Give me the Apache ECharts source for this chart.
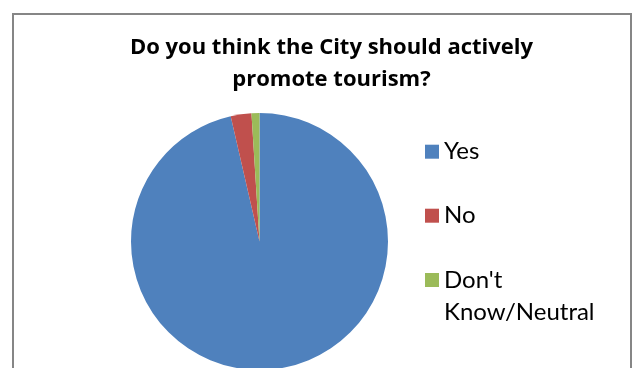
<!DOCTYPE html>
<html>
<head>
<meta charset="utf-8">
<script src="https://cdn.jsdelivr.net/npm/echarts@6/dist/echarts.min.js"></script>
<style>
html,body{margin:0;padding:0;background:#fff;}
#chart{width:636px;height:368px;}
</style>
</head>
<body>
<div id="chart"></div>
<script>
const titleLines = ["Do you think the City should actively", "promote tourism?"];
const categories = ["Yes", "No", "Don't Know/Neutral"];
const values = [96.4, 2.6, 1.0];
const colors = ["#4F81BD", "#C0504D", "#9BBB59"];

const chart = echarts.init(document.getElementById('chart'), null, {renderer: 'canvas'});
const legendFont = {fontFamily: 'Lato', fontSize: 24, color: '#000', lineHeight: 32};
function mkLegend(name, top, fmt) {
  return {
    data: [name], orient: 'vertical', left: 425, top: top, padding: 0,
    itemWidth: 14, itemHeight: 14, icon: 'rect', selectedMode: false,
    textStyle: legendFont, formatter: fmt || '{name}'
  };
}
chart.setOption({
  backgroundColor: '#fff',
  animation: false,
  legend: [
    mkLegend(categories[0], 135.7),
    mkLegend(categories[1], 199.7),
    mkLegend(categories[2], 232, function () { return "\nDon't\nKnow/Neutral"; })
  ],
  graphic: [{
    type: 'rect', shape: {x: 13, y: 14, width: 618, height: 420},
    style: {fill: 'none', stroke: '#868686', lineWidth: 2}, silent: true, z: 100
  }, {
    type: 'text', x: 331.5, y: 31.5, silent: true,
    style: {
      text: titleLines.join('\n'), align: 'center', verticalAlign: 'top',
      fontFamily: 'Open Sans', fontWeight: 'bold', fontSize: 22, lineHeight: 32, fill: '#000'
    }
  }],
  series: [{
    type: 'pie',
    center: [259.5, 241.5],
    radius: 128.5,
    startAngle: 90,
    clockwise: true,
    label: {show: false},
    labelLine: {show: false},
    itemStyle: {borderWidth: 0},
    emphasis: {disabled: true},
    data: categories.map((c, i) => ({name: c, value: values[i], itemStyle: {color: colors[i]}}))
  }]
});
</script>
</body>
</html>
